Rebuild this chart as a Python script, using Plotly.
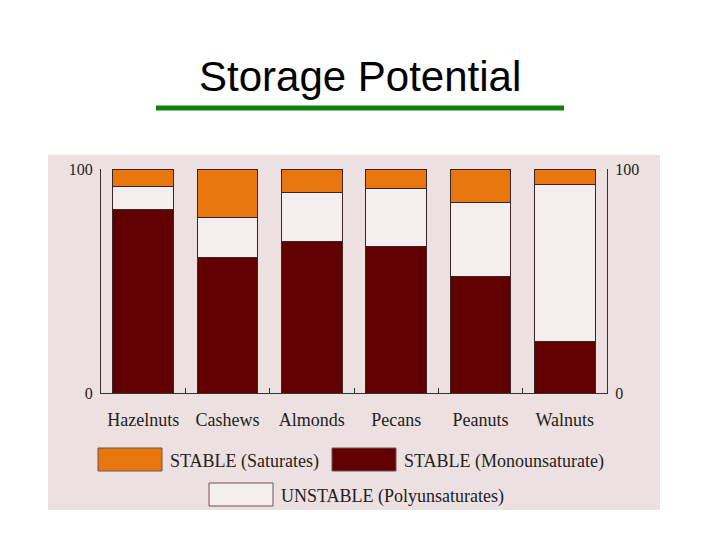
import plotly.graph_objects as go

# --- data (percent of total fat) ---
nuts = ["Hazelnuts", "Cashews", "Almonds", "Pecans", "Peanuts", "Walnuts"]
mono = [82, 60.5, 67.5, 65.5, 52, 23]
poly = [10, 18, 22, 26, 33, 70]
sat = [8, 21.5, 10.5, 8.5, 15, 7]

legend_labels = ["STABLE (Saturates)", "STABLE (Monounsaturate)", "UNSTABLE (Polyunsaturates)"]

ORANGE = "#e8760e"
MAROON = "#620000"
WHITE = "#f5eeee"
EDGE = "#3a2424"
PANEL = "#ede0e0"
SERIF = "Liberation Serif"

# plot area in screenshot pixels (page has an 8px body margin)
L, R, T, B = 101, 607, 169, 393
OFF = 8


def px(x):
    return (x - L) / (R - L)


def py(y):
    return (B - y) / (B - T)


fig = go.Figure()

for vals, color, name in [(mono, MAROON, legend_labels[1]),
                          (poly, WHITE, legend_labels[2]),
                          (sat, ORANGE, legend_labels[0])]:
    fig.add_trace(go.Bar(
        x=nuts, y=vals, name=name,
        marker=dict(color=color, line=dict(color=EDGE, width=1)),
        showlegend=False,
    ))

# empty trace so the right-hand axis is drawn
fig.add_trace(go.Scatter(x=[], y=[], yaxis="y2", showlegend=False))

shapes = [
    # photo panel
    dict(type="rect", xref="paper", yref="paper", layer="below",
         x0=px(48), x1=px(660), y0=py(155), y1=py(510),
         fillcolor=PANEL, line=dict(width=0)),
    # green underline below title
    dict(type="line", xref="paper", yref="paper",
         x0=px(156), x1=px(564), y0=py(108), y1=py(108),
         line=dict(color="#118011", width=5)),
]

# hand-placed legend (swatches + labels)
legend_items = [
    (98, 448, ORANGE, legend_labels[0]),
    (332, 448, MAROON, legend_labels[1]),
    (209, 483, WHITE, legend_labels[2]),
]
annotations = [
    dict(text="Storage Potential", xref="paper", yref="paper",
         x=px(360), y=py(76), xanchor="center", yanchor="middle",
         showarrow=False,
         font=dict(family="Liberation Sans", size=42, color="black")),
]
for x0, y0, color, label in legend_items:
    shapes.append(dict(type="rect", xref="paper", yref="paper",
                       x0=px(x0), x1=px(x0 + 64), y0=py(y0), y1=py(y0 + 23),
                       fillcolor=color, line=dict(color="#6a5555", width=1)))
    annotations.append(dict(text=label, xref="paper", yref="paper",
                            x=px(x0 + 70), y=py(y0 + 13), xanchor="left",
                            yanchor="middle", showarrow=False,
                            font=dict(family=SERIF, size=18, color="#222")))

fig.update_layout(
    width=720, height=540,
    margin=dict(l=L - OFF, r=720 - R + OFF, t=T - OFF, b=540 - B + OFF),
    barmode="stack", bargap=0.28,
    paper_bgcolor="white", plot_bgcolor="rgba(0,0,0,0)",
    font=dict(family=SERIF, color="#222"),
    xaxis=dict(
        type="category", range=[-0.5, 5.5], showline=True, linecolor="#333",
        linewidth=1, ticks="inside", ticklen=5, tickcolor="#333",
        tickson="boundaries", showgrid=False, tickfont=dict(size=18),
        ticklabelstandoff=10,
    ),
    yaxis=dict(
        range=[0, 100], tickvals=[0, 100], showline=True, linecolor="#333",
        linewidth=1, showgrid=False, zeroline=False, ticks="",
        tickfont=dict(size=16), ticklabelstandoff=4,
    ),
    yaxis2=dict(
        overlaying="y", side="right", range=[0, 100], tickvals=[0, 100],
        showline=True, linecolor="#333", linewidth=1, showgrid=False,
        zeroline=False, ticks="", tickfont=dict(size=16), ticklabelstandoff=4,
    ),
    shapes=shapes,
    annotations=annotations,
)

fig.write_html("out.html")
